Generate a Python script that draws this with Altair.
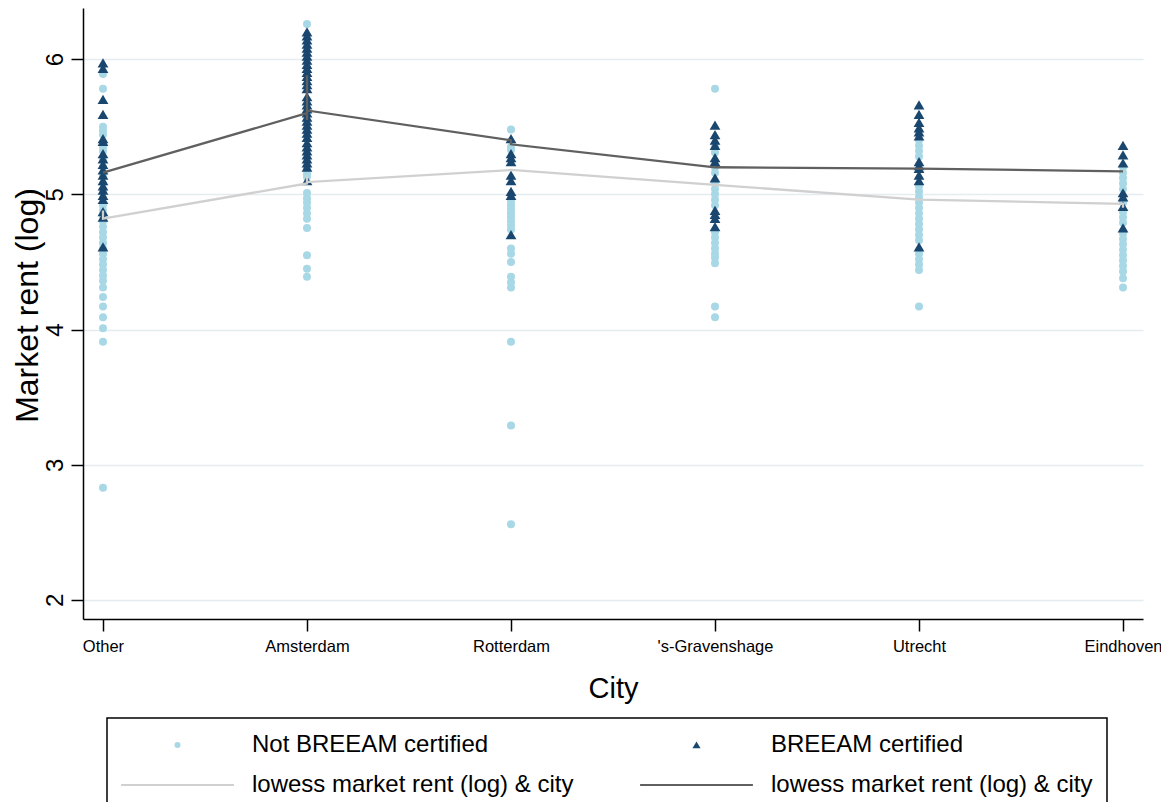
import altair as alt
import pandas as pd

# ---------------- data ----------------
CITIES = ["Other", "Amsterdam", "Rotterdam", "'s-Gravenshage", "Utrecht", "Eindhoven"]
# legend order (column-first): col 1 = not certified + its lowess, col 2 = certified + its lowess
SERIES = ["Not BREEAM certified", "lowess_nb", "BREEAM certified", "lowess_b"]
LOWESS_LABEL = "lowess market rent (log) & city"

# Not BREEAM certified (log market rent) per city
other_nb = [5.89, 5.78, 5.50, 5.47, 5.44, 5.35, 5.32, 5.26, 5.20, 5.14, 5.08, 5.02, 4.97, 4.92,
            4.88, 4.84, 4.80, 4.76, 4.72, 4.68, 4.64, 4.60, 4.56, 4.52, 4.48, 4.44, 4.40, 4.36,
            4.31, 4.24, 4.17, 4.09, 4.01, 3.91, 2.83]
amsterdam_nb = [6.26, 5.19, 5.15, 5.13, 5.01, 4.97, 4.94, 4.90, 4.86, 4.82, 4.75, 4.55, 4.45, 4.39]
rotterdam_nb = [5.48, 5.35, 5.33, 4.98, 4.95, 4.92, 4.89, 4.86, 4.83, 4.80, 4.77, 4.74, 4.60,
                4.56, 4.50, 4.39, 4.35, 4.31, 3.91, 3.29, 2.56]
gravenhage_nb = [5.78, 5.35, 5.31, 5.20, 5.16, 5.08, 5.04, 5.00, 4.96, 4.92, 4.72, 4.68, 4.64,
                 4.60, 4.56, 4.53, 4.49, 4.17, 4.09]
utrecht_nb = [5.40, 5.36, 5.32, 5.28, 5.06, 5.02, 4.98, 4.94, 4.90, 4.86, 4.82, 4.78, 4.74,
              4.70, 4.66, 4.56, 4.52, 4.48, 4.44, 4.17]
eindhoven_nb = [5.20, 5.16, 5.12, 5.08, 5.04, 4.94, 4.87, 4.83, 4.79, 4.71, 4.67, 4.63, 4.59,
                4.55, 4.51, 4.47, 4.43, 4.38, 4.31]

# BREEAM certified
other_b = [5.97, 5.93, 5.70, 5.59, 5.41, 5.39, 5.30, 5.26, 5.22, 5.18, 5.14, 5.10, 5.06, 5.03,
           4.99, 4.96, 4.87, 4.83, 4.61]
amsterdam_b = [6.20, 6.17, 6.14, 6.11, 6.08, 6.05, 6.02, 5.99, 5.96, 5.93, 5.90, 5.87, 5.84,
               5.81, 5.78, 5.72, 5.69, 5.66, 5.63, 5.60, 5.57, 5.54, 5.51, 5.48, 5.45, 5.42,
               5.38, 5.35, 5.32, 5.29, 5.26, 5.23, 5.20, 5.10]
rotterdam_b = [5.41, 5.30, 5.27, 5.24, 5.14, 5.10, 5.02, 4.99, 4.70]
gravenhage_b = [5.51, 5.44, 5.40, 5.36, 5.27, 5.24, 5.12, 4.88, 4.85, 4.82, 4.76]
utrecht_b = [5.66, 5.59, 5.53, 5.49, 5.46, 5.43, 5.24, 5.21, 5.19, 5.14, 5.10, 4.61]
eindhoven_b = [5.36, 5.29, 5.23, 5.01, 4.98, 4.91, 4.75]

# lowess curves (city index, fitted value)
lowess_nb_x = [0, 0, 1, 1, 1, 2, 3, 4, 5, 5]
lowess_nb_y = [4.88, 4.82, 5.08, 5.14, 5.09, 5.18, 5.07, 4.96, 4.93, 4.90]
lowess_b_x = [0, 1, 1, 1, 1, 2, 2, 3, 4, 5]
lowess_b_y = [5.16, 5.60, 5.88, 5.55, 5.62, 5.40, 5.37, 5.20, 5.19, 5.17]

# ---------------- tables ----------------
NB = [other_nb, amsterdam_nb, rotterdam_nb, gravenhage_nb, utrecht_nb, eindhoven_nb]
B = [other_b, amsterdam_b, rotterdam_b, gravenhage_b, utrecht_b, eindhoven_b]

rows = []
for ci, vals in enumerate(NB):
    rows += [{"city": ci, "rent": v, "series": "Not BREEAM certified"} for v in vals]
for ci, vals in enumerate(B):
    rows += [{"city": ci, "rent": v, "series": "BREEAM certified"} for v in vals]
points = pd.DataFrame(rows)

lrows = []
for i, (x, y) in enumerate(zip(lowess_nb_x, lowess_nb_y)):
    lrows.append({"city": x, "rent": y, "series": "lowess_nb", "step": i})
for i, (x, y) in enumerate(zip(lowess_b_x, lowess_b_y)):
    lrows.append({"city": x, "rent": y, "series": "lowess_b", "step": i})
lines = pd.DataFrame(lrows)

# ---------------- styling ----------------
FONT = "Liberation Sans"
COLORS = ["#a8d8e6", "#d0d0d0", "#1a476f", "#606060"]
TRI = "M0,-1.2L1.35,1.1L-1.35,1.1Z"
BAR = "M-18.8,-0.37H18.8V0.37H-18.8Z"

color_scale = alt.Scale(domain=SERIES, range=COLORS)
shape_scale = alt.Scale(domain=SERIES, range=["circle", BAR, TRI, BAR])
x_scale = alt.Scale(domain=[-0.098, 5.098], nice=False, zero=False)
y_scale = alt.Scale(domain=[1.859, 6.378], nice=False, zero=False)

city_arr = "[" + ",".join("'" + c.replace("'", "\\'") + "'" for c in CITIES) + "]"

x_axis = alt.Axis(values=list(range(len(CITIES))), labelExpr=f"{city_arr}[datum.value]",
                  title="City", grid=False, labelFontSize=16.5, titleFontSize=29,
                  labelPadding=7, titleY=69, titleBaseline="middle")
y_axis = alt.Axis(values=[2, 3, 4, 5, 6], format="d", title="Market rent (log)", grid=True,
                  labelAngle=270, labelAlign="center", labelBaseline="alphabetic",
                  labelFontSize=24, labelPadding=9, titleFontSize=32,
                  titleX=-56, titleY=297, titleBaseline="middle", titleAlign="center",
                  titleAngle=270)

legend = alt.Legend(
    title=None, orient="none", legendX=24, legendY=710, columns=2,
    labelExpr=f"(datum.label == 'lowess_nb' || datum.label == 'lowess_b') ? '{LOWESS_LABEL}' : datum.label",
    labelFontSize=24, labelFont=FONT, labelColor="#000", labelLimit=600,
    symbolSize=36, symbolOffset=44.5, labelOffset=62.5, clipHeight=26,
    rowPadding=14, columnPadding=66, padding=14, strokeColor="#000",
    symbolStrokeWidth=0,
)

pts = alt.Chart(points).mark_point(filled=True, size=64, opacity=1, strokeWidth=0).encode(
    x=alt.X("city:Q", scale=x_scale, axis=x_axis),
    y=alt.Y("rent:Q", scale=y_scale, axis=y_axis),
    color=alt.Color("series:N", scale=color_scale, legend=legend),
    shape=alt.Shape("series:N", scale=shape_scale, legend=legend),
)

lns = alt.Chart(lines).mark_line(strokeWidth=2.3).encode(
    x=alt.X("city:Q", scale=x_scale),
    y=alt.Y("rent:Q", scale=y_scale),
    color=alt.Color("series:N", scale=color_scale, legend=None),
    detail="series:N",
    order="step:Q",
)

chart = alt.layer(pts, lns).properties(
    width=1060, height=611,
    autosize=alt.AutoSizeParams(type="none"),
    padding={"left": 75, "top": 0, "right": 18, "bottom": 183},
).configure_view(stroke=None).configure_axis(
    labelFont=FONT, titleFont=FONT, labelColor="#000", titleColor="#000",
    titleFontWeight="normal", domainColor="#000", domainWidth=1.5,
    tickColor="#000", tickWidth=1.5, tickSize=12,
    gridColor="#e4ecef", gridWidth=1.5,
).configure_legend(strokeWidth=1.5)

chart.save("out.html", embed_options={"renderer": "svg", "actions": False})
